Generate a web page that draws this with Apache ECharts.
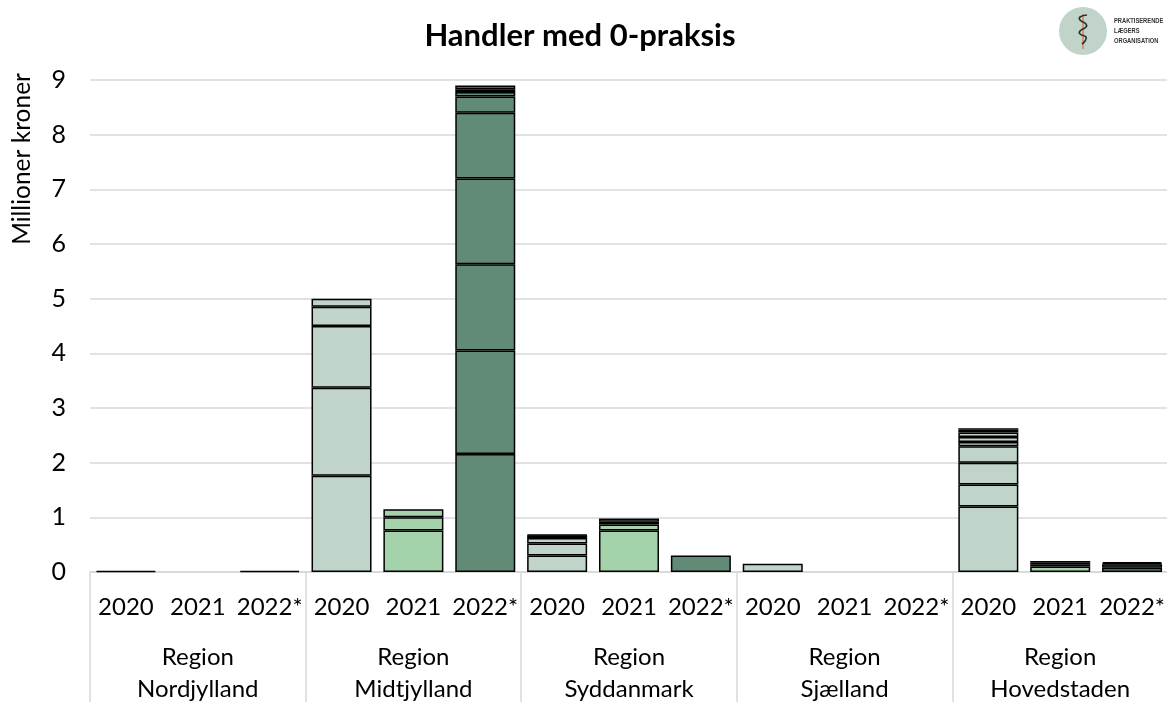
<!DOCTYPE html>
<html><head><meta charset="utf-8">
<style>html,body{margin:0;padding:0;background:#fff}#c{width:1167px;height:702px}</style>
<script src="https://cdn.jsdelivr.net/npm/echarts@6/dist/echarts.min.js"></script>
</head><body><div id="c"></div>
<script>
const years = ['2020','2021','2022*','2020','2021','2022*','2020','2021','2022*','2020','2021','2022*','2020','2021','2022*'];
const regions = ['Region\nNordjylland','Region\nMidtjylland','Region\nSyddanmark','Region\nSjælland','Region\nHovedstaden'];
const yearColors = ['#c0d4c9','#a3d2ab','#628b77'];
// Each list: one stacked segment across the 15 bars
const seg1 = [0.02,null,0.02, 1.76,0.76,2.16, 0.30,0.76,0.30, 0.15,null,null, 1.20,0.10,0.08];
const seg2 = [null,null,null, 1.61,0.24,1.89, 0.22,0.11,null, null,null,null, 0.40,0.04,0.06];
const seg3 = [null,null,null, 1.13,0.15,1.58, 0.10,0.05,null, null,null,null, 0.40,0.03,0.02];
const seg4 = [null,null,null, 0.35,null,1.57, 0.05,0.06,null, null,null,null, 0.30,0.03,0.02];
const seg5 = [null,null,null, 0.15,null,1.20, 0.01,null,null, null,null,null, 0.08,null,null];
const seg6 = [null,null,null, null,null,0.30, null,null,null, null,null,null, 0.09,null,null];
const seg7 = [null,null,null, null,null,0.08, null,null,null, null,null,null, 0.08,null,null];
const seg8 = [null,null,null, null,null,0.05, null,null,null, null,null,null, 0.05,null,null];
const seg9 = [null,null,null, null,null,0.07, null,null,null, null,null,null, 0.03,null,null];
const segments = [seg1,seg2,seg3,seg4,seg5,seg6,seg7,seg8,seg9];
const FONT = 'Lato';
const grey = '#d9d9d9';
const chart = echarts.init(document.getElementById('c'));
chart.setOption({
  animation:false,
  textStyle:{fontFamily:FONT},
  title:{text:'Handler med 0-praksis',left:575,top:15,textAlign:'center',
    textStyle:{fontFamily:FONT,fontSize:31,fontWeight:'bold',color:'#000'}},
  grid:{left:90,top:80,width:1078,height:492,outerBoundsMode:'none'},
  xAxis:[
    {type:'category',data:years,position:'bottom',
     axisLine:{lineStyle:{color:grey,width:2}},axisTick:{show:false},
     axisLabel:{interval:0,fontSize:24,color:'#000',margin:23,fontFamily:FONT}},
    {type:'category',data:regions,position:'bottom',
     axisLine:{show:false},
     axisTick:{show:true,length:130,lineStyle:{color:grey,width:1.5}},
     axisLabel:{interval:0,fontSize:24,color:'#000',margin:69,lineHeight:32,fontFamily:FONT}}
  ],
  yAxis:{type:'value',min:0,max:9,interval:1,
    name:'Millioner kroner',nameLocation:'end',nameRotate:90,nameGap:7,
    nameTextStyle:{fontSize:24.5,color:'#000',align:'right',verticalAlign:'bottom',padding:[0,0,55,0],fontFamily:FONT},
    axisLine:{show:false},axisTick:{show:false},
    splitLine:{lineStyle:{color:grey,width:1.5}},
    axisLabel:{fontSize:25,color:'#000',margin:24,padding:[2,0,0,0],fontFamily:FONT}},
  series:segments.map((d,i)=>({
    type:'bar',name:'seg'+(i+1),stack:'t',data:d,xAxisIndex:0,barWidth:60,
    itemStyle:{color:p=>yearColors[p.dataIndex%3],borderColor:'#000',borderWidth:1.5}
  })),
  graphic:[
    {type:'circle',shape:{cx:1083,cy:31,r:24},style:{fill:'#c0d4c9'}},
    {type:'line',shape:{x1:1083,y1:14,x2:1083,y2:49},style:{stroke:'#d9703a',lineWidth:1.2}},
    {type:'polyline',shape:{points:[[1087,15],[1080,17],[1080,20],[1086,24],[1086,27],[1080,31],[1080,34],[1086,37],[1085,41],[1082,44]],smooth:0.5},
     style:{fill:'none',stroke:'#2d2d2d',lineWidth:1.6}},
    {type:'text',x:1114,y:16,scaleX:0.72,style:{text:'PRAKTISERENDE\nLÆGERS\nORGANISATION',fill:'#333',font:'bold 8px "Liberation Sans"',lineHeight:10}}
  ]
});
</script></body></html>
